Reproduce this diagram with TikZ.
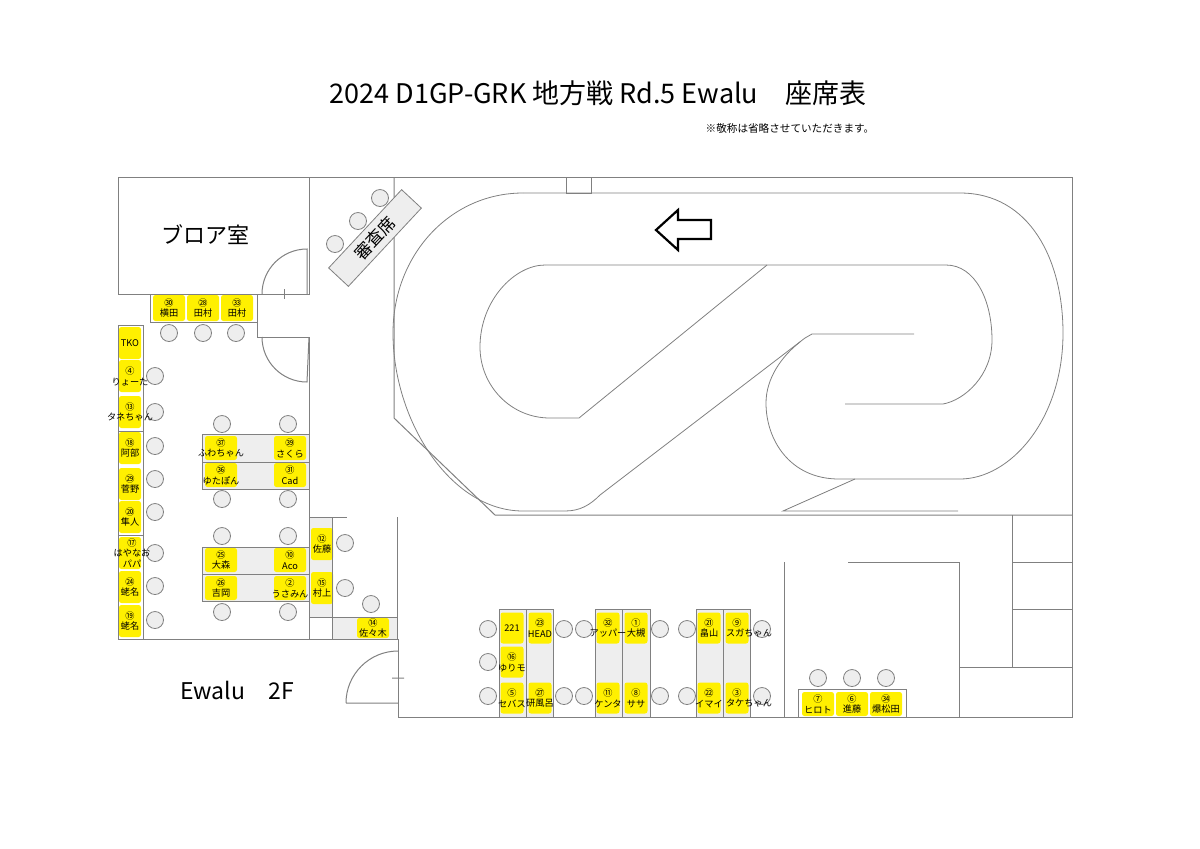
\documentclass[tikz,border=0pt]{standalone}
\usepackage{fontspec}
\setmainfont{Noto Sans CJK JP}
\usetikzlibrary{positioning}
\pgfdeclarelayer{seats}
\pgfsetlayers{seats,main}
\definecolor{seatyellow}{HTML}{FFF000}
\definecolor{wallgray}{HTML}{808080}
\definecolor{tablegray}{HTML}{EEEEEE}
\tikzset{
  wall/.style={draw=wallgray, line width=0.5pt},
  track/.style={draw=wallgray, line width=0.4pt},
  seat/.style={fill=seatyellow, rounded corners=1.2pt, inner sep=0pt},
  seattext/.style={inner sep=0pt, align=center, font=\fontsize{4.6}{5.4}\selectfont},
  chair/.style={circle, draw=wallgray, fill=tablegray, line width=0.4pt,
    minimum size=8.5pt, inner sep=0pt},
}
% seat: [text shift], name, x, y, width, height, text
\newcommand\seatbox[7][0pt]{%
  \begin{pgfonlayer}{seats}
  \node[seat, minimum width=#5*0.5pt, minimum height=#6*0.5pt] (#2) at (#3,#4) {};
  \end{pgfonlayer}
  \node[seattext] at ([xshift=#1]#2) {#7};}
\begin{document}
\begin{tikzpicture}[x=0.5pt, y=-0.5pt]
\useasboundingbox (0,0) rectangle (1200,848);

% titles
\node (title) at (598,93) {\fontsize{13.5}{16}\selectfont 2024 D1GP-GRK 地方戦 Rd.5 Ewalu　座席表};
\node (note) at (790,128) {\fontsize{5.3}{6}\selectfont ※敬称は省略させていただきます。};
\node (blower) at (205,235) {\fontsize{11}{13}\selectfont ブロア室};
\node (floor) at (237,690) {\fontsize{11.5}{13}\selectfont Ewalu　2F};

% gray table areas
\begin{pgfonlayer}{seats}
\fill[tablegray] (202,434) rectangle (309,489);
\fill[tablegray] (202,547) rectangle (309,601);
\fill[tablegray] (309,517) rectangle (332,617);
\fill[tablegray] (332,617) rectangle (397,639);
\fill[tablegray] (499,609) rectangle (553,717);
\fill[tablegray] (595,609) rectangle (650,717);
\fill[tablegray] (696,609) rectangle (750,717);
\end{pgfonlayer}

% walls
\draw[wall] (118,294) -- (118,177) -- (1072,177) -- (1072,717) -- (398,717) -- (398,639);
\draw[wall] (118,294) -- (309,294) -- (309,177);
\draw[wall] (284,289) -- (284,299);
\draw[wall] (262,294) arc (180:270:45) -- (307,294);
\draw[wall] (150,294) rectangle (257,322);
\draw[wall] (257,322) -- (257,337) -- (309,337) -- (309,639);
\draw[wall] (262,337) arc (180:90:45) -- (309,337);
\draw[wall] (118,325) rectangle (143,639);
\draw[wall] (118,431) -- (143,431) (118,535) -- (143,535);
\draw[wall] (143,639) -- (397,639) -- (397,517);
\draw[wall] (202,434) rectangle (309,489) (202,462) -- (309,462);
\draw[wall] (202,547) rectangle (309,601) (202,574) -- (309,574);
\draw[wall] (309,517) -- (347,517) (332,517) -- (332,639) (309,617) -- (397,617);
\draw[wall] (346,703) arc (180:270:52) (346,703) -- (398,703) (392,678) -- (404,678);
\draw[wall] (394,177) -- (394,418) -- (495,515) -- (1072,515);
\draw[wall] (566,177) rectangle (591,193);
\draw[wall] (784,562) -- (784,717) (848,562) -- (959,562) -- (959,717);
\draw[wall] (1012,515) -- (1012,667) (959,667) -- (1072,667);
\draw[wall] (1012,562) -- (1072,562) (1012,609) -- (1072,609);
\draw[wall] (499,609) rectangle (553,717) (526,609) -- (526,717);
\draw[wall] (595,609) rectangle (650,717) (622,609) -- (622,717);
\draw[wall] (696,609) rectangle (750,717) (723,609) -- (723,717);
\draw[wall] (798,689) rectangle (906,717);

% judge table
\node[draw=wallgray, fill=tablegray, minimum width=53.5pt, minimum height=13.5pt,
  rotate=47, inner sep=0pt, font=\fontsize{8.5}{10}\selectfont] (judge) at (375,238) {審査席};

% track
\draw[track] (523,193) -- (960,193) .. controls (1030,193) and (1063,260) .. (1063,333)
  .. controls (1063,420) and (1010,479) .. (960,479) -- (839,479)
  .. controls (790,479) and (766,440) .. (766,403) .. controls (766,378) and (782,356) .. (800,342);
\draw[track] (523,193) .. controls (450,193) and (393,255) .. (393,333)
  .. controls (393,420) and (450,511) .. (523,511) -- (565,511)
  .. controls (580,511) and (590,505) .. (600,495) -- (805,338) -- (812,334) -- (914,334);
\draw[track] (855,479) -- (783,511) -- (958,511);
\draw[track] (545,265) -- (946,265) .. controls (975,265) and (992,300) .. (992,340)
  .. controls (992,375) and (965,400) .. (943,404) -- (845,404);
\draw[track] (767,265) -- (579,418) -- (550,418) .. controls (510,418) and (480,385) .. (480,347)
  .. controls (480,300) and (515,265) .. (545,265);
\draw[line width=1.1pt] (656,230) -- (678,210) -- (678,220) -- (711,220) -- (711,239)
  -- (678,239) -- (678,250) -- cycle;

% chairs
\foreach \cx/\cy [count=\i] in {169/333, 203/333, 236/333,
  155/376, 155/412, 155/446, 155/479, 155/512, 155/553, 155/586, 155/620,
  222/424, 288/424, 222/499, 288/499, 222/536, 288/536, 222/612, 288/612,
  345/543, 345/588, 371/604, 380/198, 358/221, 335/244,
  488/629, 488/662, 488/696, 564/629, 564/696, 584/629, 584/696, 660/629, 660/696,
  687/629, 687/696, 762/629, 762/696, 818/678, 852/678, 886/678}
  \node[chair] (chair\i) at (\cx,\cy) {};

% seats
\seatbox{s30}{169}{308}{32}{26}{㉚\\横田}
\seatbox{s28}{203}{308}{32}{26}{㉘\\田村}
\seatbox{s33}{237}{308}{32}{26}{㉝\\田村}
\seatbox{tko}{130}{343}{22}{32}{TKO}
\seatbox{s4}{130}{376}{22}{32}{④\\りょーた}
\seatbox{s13}{130}{412}{22}{32}{⑬\\タネちゃん}
\seatbox{s18}{130}{448}{22}{32}{⑱\\阿部}
\seatbox{s29}{130}{484}{22}{32}{㉙\\菅野}
\seatbox{s20}{130}{517}{22}{32}{⑳\\隼人}
\seatbox[1pt]{s17}{130}{553}{22}{32}{⑰\\はやなお\\パパ}
\seatbox{s24}{130}{587}{22}{32}{㉔\\蛯名}
\seatbox{s19}{130}{621}{22}{32}{⑲\\蛯名}
\seatbox{s37}{221}{448}{32}{24}{㊲\\ふわちゃん}
\seatbox{s39}{290}{448}{32}{24}{㊴\\さくら}
\seatbox{s36}{221}{475}{32}{24}{㊱\\ゆたぽん}
\seatbox{s31}{290}{475}{32}{24}{㉛\\Cad}
\seatbox{s25}{221}{560}{32}{24}{㉕\\大森}
\seatbox{s10}{290}{560}{32}{24}{⑩\\Aco}
\seatbox{s26}{221}{588}{32}{24}{㉖\\吉岡}
\seatbox{s2}{290}{588}{32}{24}{②\\うさみん}
\seatbox{s12}{322}{544}{22}{32}{⑫\\佐藤}
\seatbox{s15}{322}{588}{22}{32}{⑮\\村上}
\seatbox{s14}{373}{628}{32}{20}{⑭\\佐々木}
\seatbox{s221}{512}{628}{23}{31}{221}
\seatbox{s16}{512}{662}{23}{31}{⑯\\ゆりモ}
\seatbox{s5}{512}{698}{23}{31}{⑤\\セバス}
\seatbox{s23}{540}{628}{23}{31}{㉓\\HEAD}
\seatbox{s27}{540}{698}{23}{31}{㉗\\研風呂}
\seatbox{s32}{608}{628}{23}{31}{㉜\\アッパー}
\seatbox{s1}{636}{628}{23}{31}{①\\大槻}
\seatbox{s11}{608}{698}{23}{31}{⑪\\ケンタ}
\seatbox{s8}{636}{698}{23}{31}{⑧\\ササ}
\seatbox{s21}{709}{628}{23}{31}{㉑\\畠山}
\seatbox{s9}{737}{628}{23}{31}{⑨\\\makebox[11pt][l]{スガちゃん}}
\seatbox{s22}{709}{698}{23}{31}{㉒\\イマイ}
\seatbox{s3}{737}{698}{23}{31}{③\\\makebox[11pt][l]{タケちゃん}}
\seatbox{s7}{818}{704}{32}{24}{⑦\\ヒロト}
\seatbox{s6}{852}{704}{32}{24}{⑥\\進藤}
\seatbox{s34}{886}{704}{32}{24}{㉞\\爆松田}
\end{tikzpicture}
\end{document}
